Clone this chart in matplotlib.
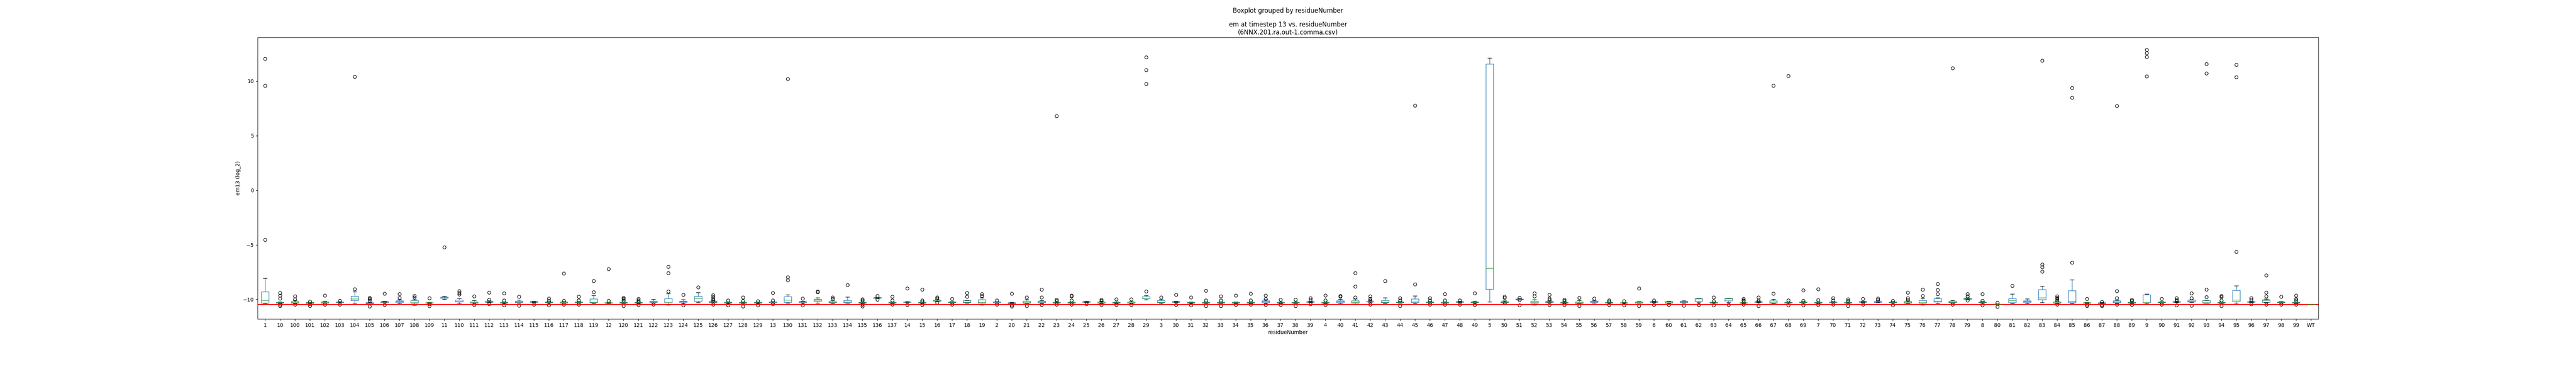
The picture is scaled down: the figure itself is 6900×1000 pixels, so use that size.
import matplotlib
matplotlib.use("Agg")
import matplotlib.pyplot as plt

# residue labels, sorted as strings (as pandas groupby does)
labels = ["1", "10", "100", "101", "102", "103", "104", "105", "106", "107", "108", "109",
          "11", "110", "111", "112", "113", "114", "115", "116", "117", "118", "119",
          "12", "120", "121", "122", "123", "124", "125", "126", "127", "128", "129",
          "13", "130", "131", "132", "133", "134", "135", "136", "137",
          "14", "15", "16", "17", "18", "19",
          "2", "20", "21", "22", "23", "24", "25", "26", "27", "28", "29",
          "3", "30", "31", "32", "33", "34", "35", "36", "37", "38", "39",
          "4", "40", "41", "42", "43", "44", "45", "46", "47", "48", "49",
          "5", "50", "51", "52", "53", "54", "55", "56", "57", "58", "59",
          "6", "60", "61", "62", "63", "64", "65", "66", "67", "68", "69",
          "7", "70", "71", "72", "73", "74", "75", "76", "77", "78", "79",
          "8", "80", "81", "82", "83", "84", "85", "86", "87", "88", "89",
          "9", "90", "91", "92", "93", "94", "95", "96", "97", "98", "99", "WT"]

whislo = [-10.39, -10.35, -10.36, -10.37, -10.33, -10.30, -10.40, -10.43, -10.30, -10.35, -10.54, -10.36,
          -9.98, -10.40, -10.34, -10.28, -10.37, -10.34, -10.30, -10.33, -10.34, -10.33, -10.36,
          -10.36, -10.35, -10.37, -10.34, -10.50, -10.36, -10.30, -10.30, -10.35, -10.36, -10.37,
          -10.31, -10.33, -10.33, -10.33, -10.36, -10.33, -10.36, -9.90, -10.36,
          -10.28, -10.37, -10.19, -10.31, -10.33, -10.50,
          -10.31, -10.38, -10.35, -10.35, -10.34, -10.34, -10.28, -10.36, -10.37, -10.35, -10.035,
          -10.385, -10.30, -10.37, -10.37, -10.36, -10.36, -10.37, -10.32, -10.37, -10.37, -10.30,
          -10.37, -10.385, -10.48, -10.30, -10.36, -10.33, -10.36, -10.33, -10.34, -10.30, -10.33,
          -10.22, -10.33, -10.05, -10.50, -10.30, -10.36, -10.40, -10.33, -10.34, -10.37, -10.34,
          -10.30, -10.36, -10.33, -10.28, -10.34, -10.28, -10.37, -10.28, -10.36, -10.34, -10.33,
          -10.37, -10.30, -10.36, -10.28, -10.29, -10.33, -10.36, -10.50, -10.36, -10.33, -10.00,
          -10.33, -10.50, -10.36, -10.36, -10.30, -10.37, -10.36, -10.37, -10.38, -10.35, -10.36,
          -10.40, -10.31, -10.30, -10.26, -10.33, -10.37, -10.33, -10.29, -10.28, -10.33, -10.36, -10.48]

q1 = [-10.33, -10.32, -10.33, -10.35, -10.32, -10.28, -10.09, -10.41, -10.28, -10.27, -10.33, -10.34,
      -9.88, -10.23, -10.31, -10.25, -10.34, -10.28, -10.27, -10.30, -10.31, -10.30, -10.30,
      -10.34, -10.33, -10.34, -10.27, -10.30, -10.26, -10.15, -10.28, -10.31, -10.33, -10.34,
      -10.28, -10.27, -10.29, -10.15, -10.30, -10.30, -10.33, -9.88, -10.33,
      -10.26, -10.34, -10.15, -10.28, -10.30, -10.33,
      -10.28, -10.35, -10.33, -10.30, -10.315, -10.315, -10.26, -10.33, -10.34, -10.315, -9.93,
      -10.30, -10.26, -10.34, -10.34, -10.33, -10.33, -10.34, -10.28, -10.34, -10.34, -10.26,
      -10.34, -10.28, -10.315, -10.23, -10.30, -10.30, -10.245, -10.30, -10.315, -10.26, -10.30,
      -9.05, -10.30, -10.02, -10.33, -10.28, -10.33, -10.36, -10.26, -10.315, -10.34, -10.315,
      -10.27, -10.315, -10.30, -10.15, -10.315, -10.13, -10.34, -10.26, -10.33, -10.315, -10.29,
      -10.34, -10.28, -10.33, -10.245, -10.26, -10.30, -10.33, -10.33, -10.21, -10.30, -9.98,
      -10.29, -10.48, -10.30, -10.26, -10.02, -10.34, -10.30, -10.34, -10.36, -10.28, -10.33,
      -10.30, -10.28, -10.26, -10.21, -10.33, -10.33, -10.20, -10.26, -10.26, -10.30, -10.33, -10.48]

med = [-10.10, -10.28, -10.27, -10.30, -10.25, -10.24, -9.94, -10.35, -10.22, -10.20, -10.28, -10.30,
       -9.82, -10.20, -10.26, -10.21, -10.30, -10.22, -10.22, -10.26, -10.27, -10.25, -10.26,
       -10.30, -10.28, -10.30, -10.21, -10.28, -10.19, -9.93, -10.22, -10.28, -10.29, -10.30,
       -10.23, -10.05, -10.23, -10.05, -10.25, -10.21, -10.28, -9.85, -10.28,
       -10.23, -10.28, -10.09, -10.26, -10.27, -10.26,
       -10.23, -10.33, -10.29, -10.22, -10.28, -10.28, -10.21, -10.28, -10.30, -10.28, -9.91,
       -10.26, -10.22, -10.30, -10.30, -10.29, -10.29, -10.29, -10.20, -10.30, -10.30, -10.22,
       -10.30, -10.20, -10.26, -10.20, -10.26, -10.26, -10.22, -10.26, -10.28, -10.22, -10.245,
       -7.13, -10.245, -9.99, -10.28, -10.22, -10.28, -10.30, -10.19, -10.28, -10.30, -10.27,
       -10.23, -10.26, -10.22, -9.94, -10.28, -9.92, -10.30, -10.22, -10.28, -10.28, -10.26,
       -10.29, -10.23, -10.29, -10.21, -10.20, -10.26, -10.27, -10.28, -10.15, -10.245, -9.93,
       -10.26, -10.43, -10.10, -10.20, -9.84, -10.28, -10.14, -10.30, -10.32, -10.22, -10.29,
       -10.28, -10.245, -10.22, -10.15, -10.28, -10.28, -10.05, -10.21, -10.07, -10.26, -10.28, -10.48]

q3 = [-9.31, -10.25, -10.20, -10.27, -10.21, -10.21, -9.72, -10.28, -10.20, -10.13, -10.10, -10.28,
      -9.78, -10.05, -10.21, -10.17, -10.27, -10.14, -10.20, -10.22, -10.23, -10.21, -9.94,
      -10.28, -10.26, -10.27, -10.15, -9.90, -10.14, -9.70, -10.17, -10.26, -10.27, -10.27,
      -10.21, -9.75, -10.19, -9.97, -10.20, -10.07, -10.26, -9.82, -10.26,
      -10.21, -10.25, -10.06, -10.23, -10.10, -10.03,
      -10.21, -10.29, -10.17, -10.14, -10.26, -10.26, -10.19, -10.23, -10.26, -10.23, -9.74,
      -10.10, -10.20, -10.27, -10.27, -10.26, -10.27, -10.26, -10.13, -10.27, -10.27, -10.20,
      -10.27, -10.105, -10.105, -10.175, -10.07, -10.21, -9.94, -10.22, -10.26, -10.20, -10.21,
      11.56, -10.20, -9.95, -10.16, -10.16, -10.245, -10.21, -10.15, -10.245, -10.28, -10.22,
      -10.20, -10.20, -10.16, -9.93, -10.26, -9.895, -10.28, -10.19, -10.13, -10.245, -10.23,
      -10.245, -10.21, -10.26, -10.19, -10.175, -10.22, -10.20, -10.07, -9.93, -10.16, -9.88,
      -10.21, -10.42, -9.93, -10.105, -9.09, -10.23, -9.21, -10.28, -10.29, -10.13, -10.26,
      -9.59, -10.21, -10.20, -10.06, -10.07, -10.245, -9.17, -10.19, -10.035, -10.23, -10.245, -10.48]

whishi = [-8.05, -10.22, -10.10, -10.25, -10.15, -10.18, -9.31, -10.25, -10.16, -10.01, -10.01, -10.26,
          -9.72, -9.92, -10.07, -10.13, -10.24, -10.05, -10.17, -10.19, -10.20, -10.18, -9.63,
          -10.25, -10.23, -10.24, -9.98, -9.46, -10.01, -9.37, -10.13, -10.23, -10.24, -10.24,
          -10.18, -9.56, -10.14, -9.86, -10.07, -9.79, -10.23, -9.80, -10.23,
          -10.18, -10.22, -10.03, -10.20, -10.10, -9.84,
          -10.18, -10.26, -10.035, -10.07, -10.23, -10.23, -10.16, -10.20, -10.23, -10.20, -9.64,
          -10.035, -10.17, -10.24, -10.24, -10.23, -10.24, -10.23, -10.035, -10.24, -10.24, -10.17,
          -10.24, -9.99, -9.95, -10.105, -9.86, -10.18, -9.66, -10.19, -10.23, -10.17, -10.16,
          12.12, -10.13, -9.92, -10.01, -10.13, -10.21, -10.09, -10.09, -10.21, -10.25, -10.19,
          -10.17, -10.14, -10.13, -9.93, -10.23, -9.895, -10.25, -10.16, -9.98, -10.21, -10.20,
          -10.21, -10.18, -10.23, -10.16, -10.13, -10.19, -10.13, -9.91, -9.86, -10.09, -9.86,
          -10.18, -10.40, -9.51, -9.95, -8.775, -10.20, -8.19, -10.25, -10.26, -10.05, -10.23,
          -9.51, -10.18, -10.17, -10.01, -10.05, -10.21, -8.74, -10.16, -9.95, -10.20, -10.21, -10.48]

fliers = [[12.05, 9.57, -4.52], [-9.4, -9.63, -9.92, -10.48, -10.6], [-9.72, -10.0, -10.48],
          [-10.2, -10.42, -10.6], [-9.63, -10.48], [-10.13, -10.45], [10.39, -9.05],
          [-9.84, -9.95, -10.07, -10.65], [-9.47, -10.51], [-9.51, -9.84], [-9.66, -9.81],
          [-9.87, -10.42, -10.6],
          [-5.22], [-9.23, -9.4, -9.55], [-9.7, -10.5], [-9.37, -10.01, -10.42],
          [-9.44, -10.1, -10.54], [-9.75, -10.57], [-10.45], [-9.9, -10.13, -10.54],
          [-7.62, -10.13, -10.48], [-9.74, -10.07, -10.48], [-8.32, -9.35],
          [-7.2, -10.13], [-9.84, -9.95, -10.07, -10.6], [-9.95, -10.07, -10.19, -10.51],
          [-10.48], [-7.02, -7.6, -9.25], [-9.57, -10.54], [-8.88],
          [-9.6, -9.78, -9.95, -10.07, -10.48], [-10.1, -10.54], [-9.8, -10.13, -10.63],
          [-10.16, -10.54],
          [-9.39, -10.07, -10.42], [10.18, -7.95, -8.23], [-9.9, -10.54], [-9.25, -9.35],
          [-9.81, -9.95], [-8.68], [-9.99, -10.1, -10.48, -10.63], [-9.67, -10.03],
          [-9.74, -10.09, -10.48],
          [-9.0, -10.5], [-9.09, -10.07, -10.19, -10.5], [-9.81, -9.9, -10.3], [-9.95, -10.48],
          [-9.4, -9.74], [-9.49, -9.66],
          [-10.07, -10.45], [-9.46, -10.54, -10.65], [-9.81, -10.6], [-9.11, -9.8, -10.5],
          [6.8, -10.035, -10.13, -10.48], [-9.63, -9.72, -10.07, -10.48], [-10.42],
          [-10.01, -10.13, -10.51], [-9.99, -10.51], [-9.98, -10.51], [12.2, 11.03, 9.74, -9.28],
          [-9.8], [-9.57, -10.51], [-9.82, -10.54], [-9.21, -10.07, -10.6], [-9.7, -10.07, -10.6],
          [-9.63, -10.51], [-9.47, -10.07, -10.48], [-9.63, -9.95, -10.5], [-10.01, -10.51],
          [-10.01, -10.6], [-9.895, -10.01, -10.42],
          [-9.65, -10.07, -10.5], [-9.66, -9.74], [-7.6, -8.81, -9.8], [-9.7, -9.95, -10.07, -10.48],
          [-8.32], [-9.895, -10.07, -10.6], [7.75, -8.61], [-9.895, -10.07, -10.48],
          [-9.51, -10.07, -10.48], [-10.07, -10.455], [-9.44, -10.51],
          [], [-9.74, -9.86, -10.34], [-9.84, -10.05, -10.54], [-9.43, -9.72],
          [-9.58, -9.92, -10.035, -10.51], [-10.01, -10.13, -10.51], [-9.84, -10.6], [-9.92],
          [-10.07, -10.19, -10.51], [-10.16, -10.54], [-9.0, -10.6],
          [-10.09, -10.5], [-10.51], [-10.57], [-10.5], [-9.81, -10.16, -10.54], [-10.5],
          [-9.95, -10.07, -10.13, -10.48], [-9.8, -10.07, -10.19, -10.6], [9.57, -9.46],
          [10.46, -10.07, -10.54], [-9.16, -10.13, -10.54],
          [-9.055, -10.05, -10.51], [-9.895, -10.07, -10.48], [-9.98, -10.13, -10.6],
          [-9.95, -10.455], [-9.93, -10.05], [-10.105, -10.54], [-9.38, -9.895, -10.01],
          [-9.11, -9.66], [-8.58, -9.125, -9.49], [11.18, -10.48], [-9.49, -9.72, -10.07],
          [-9.51, -10.13, -10.54], [-10.28, -10.68], [-8.75], [],
          [11.88, -6.79, -7.03, -7.44], [-9.72, -9.84, -9.95, -10.07, -10.48],
          [9.37, 8.48, -6.64], [-9.94, -10.48, -10.6], [-10.21, -10.51, -10.6],
          [7.72, -9.24, -9.895, -10.48], [-10.01, -10.13, -10.51],
          [12.88, 12.57, 12.22, 10.44], [-9.95, -10.48], [-9.895, -10.01, -10.13, -10.54],
          [-9.45, -9.895, -10.56], [11.56, 10.72, -9.09, -9.77], [-9.66, -9.78, -10.07, -10.6],
          [11.5, 10.37, -5.62], [-9.895, -10.01, -10.42], [-7.79, -9.37, -9.72, -10.48],
          [-9.74, -10.48], [-9.63, -9.95, -10.07, -10.48], []]

threshold = -10.46

stats = []
for i in range(len(labels)):
    stats.append({
        'label': labels[i],
        'whislo': whislo[i],
        'q1': q1[i],
        'med': med[i],
        'q3': q3[i],
        'whishi': whishi[i],
        'fliers': fliers[i],
    })

fig = plt.figure(figsize=(69, 10), dpi=100)
ax = fig.add_axes([0.1, 0.147, 0.8, 0.753])

positions = list(range(1, len(labels) + 1))
ax.bxp(stats, positions=positions, widths=0.5,
       boxprops=dict(color='C0'), whiskerprops=dict(color='C0'),
       medianprops=dict(color='C2'), capprops=dict(color='k'),
       flierprops=dict(marker='o', markerfacecolor='none', markeredgecolor='k'))

ax.axhline(threshold, color='red')
ax.set_xlim(0.5, len(labels) + 0.5)
ax.set_ylim(-11.8, 14.0)
ax.set_xticks(positions, labels)

fig.suptitle('Boxplot grouped by residueNumber')
ax.set_title('em at timestep 13 vs. residueNumber\n(6NNX.201.ra.out-1.comma.csv)')
ax.set_xlabel('residueNumber')
ax.set_ylabel('em13 (log_2)')

fig.savefig('out.png')
